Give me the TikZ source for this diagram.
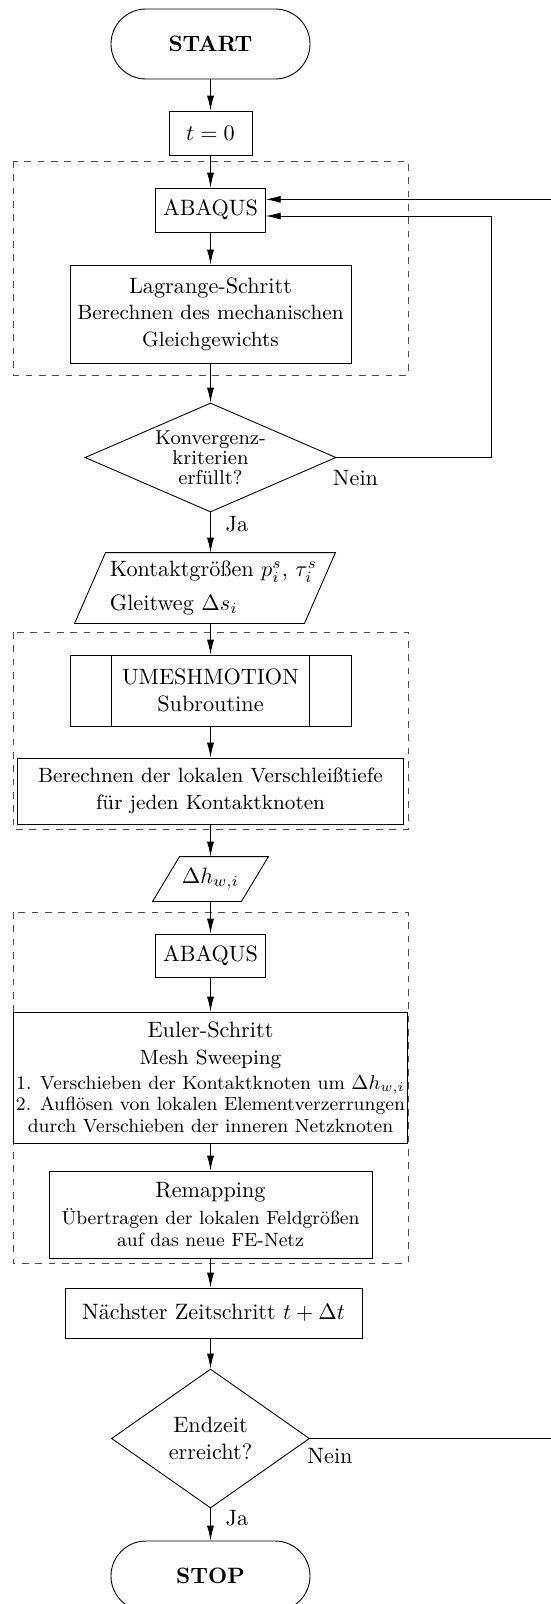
\documentclass[tikz,border=0pt]{standalone}
\usepackage{amsmath}
\usepackage{tikz}
\usetikzlibrary{arrows.meta,shapes.geometric,calc}
\newcommand{\subtxt}{\fontsize{9.3}{12}\selectfont}
\newcommand{\listtxt}{\fontsize{8.6}{10}\selectfont}
\newcommand{\iobox}[3]{\draw ([xshift=#2]#1.north west) -- ([xshift=#2]#1.north east) -- ([xshift=#3]#1.south east) -- ([xshift=#3]#1.south west) -- cycle;}
\newcommand{\subbars}[2]{\draw ([xshift=#2]#1.north west) -- ([xshift=#2]#1.south west) ([xshift=-#2]#1.north east) -- ([xshift=-#2]#1.south east);}
\tikzset{
  term/.style={draw, rectangle, rounded corners=15.75pt, minimum width=89.55pt, minimum height=31.5pt, font=\bfseries},
  procbox/.style={draw, rectangle, align=center},
  decision/.style={draw, diamond, inner sep=0pt, align=center},
  ioshape/.style={rectangle, inner sep=0pt},
  flow/.style={-{Latex[length=6.75pt,width=3.2pt]}},
  groupbox/.style={draw=black!70, dashed}
}

\begin{document}
\begin{tikzpicture}[x=0.45pt,y=-0.45pt]
\useasboundingbox (0,0) rectangle (551,1604);
% gestrichelte Gruppen
\draw[groupbox] (13,161) rectangle (408,375);
\draw[groupbox] (13,632) rectangle (408,829);
\draw[groupbox] (13,912) rectangle (408,1263);

% Knoten
\node[term] (start) at (210.5,44) {START};
\node[procbox, minimum width=37.35pt, minimum height=19.8pt] (tzero) at (210.5,133) {$t=0$};
\node[procbox, minimum width=46.8pt, minimum height=19.8pt] (abq1) at (210.5,210) {ABAQUS};
\node[procbox, minimum width=126.45pt, minimum height=44.1pt] (lagr) at (210.5,314) {Lagrange-Schritt\\{\subtxt Berechnen des mechanischen}\\{\subtxt Gleichgewichts}};
\node[decision, aspect=2.3, minimum width=112.95pt, minimum height=49.05pt, font=\small] (konv) at (210.5,457.5) {Konvergenz-\\[-2pt]kriterien\\[-2pt]erfüllt?};
\node[ioshape, minimum width=103.05pt, minimum height=31.5pt, align=left] (kont) at (213.5,588) {Kontaktgrößen $p_i^s$, $\tau_i^s$\\[3pt]Gleitweg $\Delta s_i$};
\iobox{kont}{3.15pt}{-10.8pt}
\node[procbox, minimum width=126.45pt, minimum height=31.95pt] (umesh) at (210.5,690.5) {UMESHMOTION\\Subroutine};
\subbars{umesh}{18.9pt}
\node[procbox, minimum width=173.7pt, minimum height=29.7pt] (vtiefe) at (210.5,791) {{\subtxt Berechnen der lokalen Verschleißtiefe}\\{\subtxt für jeden Kontaktknoten}};
\node[ioshape, minimum width=39.6pt, minimum height=19.8pt] (dh) at (210.5,879) {$\Delta h_{w,i}$};
\iobox{dh}{6.075pt}{-6.075pt}
\node[procbox, minimum width=46.8pt, minimum height=19.35pt] (abq2) at (210.5,955.5) {ABAQUS};
\node[procbox, minimum width=173.25pt, minimum height=58.95pt, inner sep=1pt] (euler) at (210.5,1077.5) {Euler-Schritt\\{\subtxt Mesh Sweeping}\\[-1pt]{\listtxt 1. Verschieben der Kontaktknoten um $\Delta h_{w,i}$}\\[-2.5pt]{\listtxt 2. Auflösen von lokalen Elementverzerrungen}\\[-2pt]{\listtxt durch Verschieben der inneren Netzknoten}};
\node[procbox, minimum width=145.35pt, minimum height=39.15pt] (remap) at (210.5,1214.5) {Remapping\\{\listtxt Übertragen der lokalen Feldgrößen}\\[-2pt]{\listtxt auf das neue FE-Netz}};
\node[procbox, minimum width=133.65pt, minimum height=22.5pt] (next) at (213.5,1313) {Nächster Zeitschritt $t+\Delta t$};
\node[decision, aspect=1.42, minimum width=89.1pt, minimum height=62.55pt] (endz) at (210.5,1438.5) {Endzeit\\erreicht?};
\node[term] (stop) at (210.5,1576) {STOP};

% Beschriftungen
\node (ja1) at (237,524) {Ja};
\node (nein1) at (355.5,478) {Nein};
\node (ja2) at (237,1518) {Ja};
\node (nein2) at (330,1456) {Nein};

\coordinate (innerR) at (491,457.5);
\coordinate (outerR) at (580,1438.5);

% Pfeile
\draw[flow] (start) -- (tzero);
\draw[flow] (tzero) -- (abq1);
\draw[flow] (abq1) -- (lagr);
\draw[flow] (lagr) -- (konv);
\draw[flow] (konv.south) -- (konv.south |- kont.north);
\draw[flow] (kont.south -| umesh.north) -- (umesh.north);
\draw[flow] (umesh) -- (vtiefe);
\draw[flow] (vtiefe) -- (dh);
\draw[flow] (dh) -- (abq2);
\draw[flow] (abq2) -- (euler);
\draw[flow] (euler) -- (remap);
\draw[flow] (remap.south) -- (remap.south |- next.north);
\draw[flow] (next.south -| endz.north) -- (endz.north);
\draw[flow] (endz) -- (stop);
\draw[flow] (konv.east) -- (innerR) |- ([yshift=-2.7pt]abq1.east);
\draw[flow] (endz.east) -- (outerR) |- ([yshift=4.8pt]abq1.east);
\end{tikzpicture}
\end{document}
